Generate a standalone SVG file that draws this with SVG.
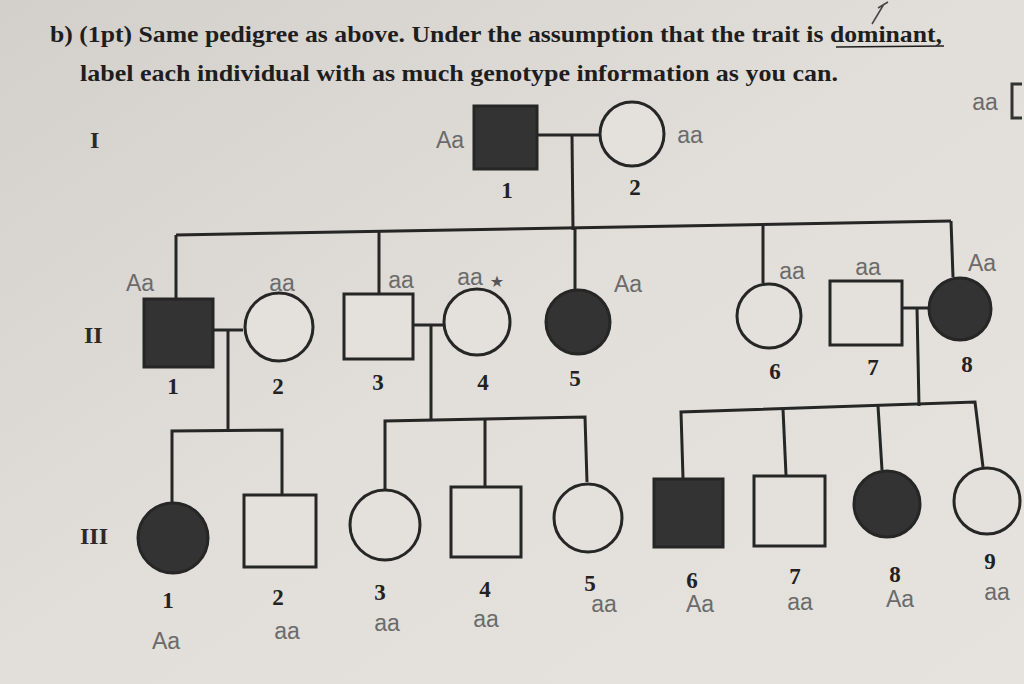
<svg xmlns="http://www.w3.org/2000/svg" width="1024" height="684" viewBox="0 0 1024 684">
<defs>
<linearGradient id="bg" x1="0" y1="0" x2="1" y2="1">
<stop offset="0" stop-color="#d3cfca"/>
<stop offset="0.5" stop-color="#e2ded9"/>
<stop offset="1" stop-color="#e6e3de"/>
</linearGradient>
</defs>
<style>
.hd{font-family:"Liberation Serif",serif;font-weight:bold;font-size:24px;fill:#1e1e1e}
.gen{font-family:"Liberation Serif",serif;font-weight:bold;font-size:24px;fill:#2a2a2a}
.num{font-family:"Liberation Serif",serif;font-weight:bold;font-size:23px;fill:#222;text-anchor:middle}
.hw{font-family:"Liberation Sans",sans-serif;font-size:23px;fill:#6b6b6b;text-anchor:middle}
.ln{stroke:#262626;stroke-width:3;fill:none}
.open{fill:#e4e0db;stroke:#262626;stroke-width:3}
.aff{fill:#333;stroke:#262626;stroke-width:3}
</style>
<rect width="1024" height="684" fill="url(#bg)"/>

<g id="header">
<text class="hd" x="50" y="42" textLength="892" lengthAdjust="spacingAndGlyphs">b) (1pt) Same pedigree as above. Under the assumption that the trait is dominant,</text>
<line x1="836" y1="47" x2="944" y2="46" stroke="#1e1e1e" stroke-width="1.5"/>
<text class="hd" x="80" y="81" textLength="758" lengthAdjust="spacingAndGlyphs">label each individual with as much genotype information as you can.</text>
<path d="M872 24 L884 4 M878 8 L888 2" stroke="#444" stroke-width="1.5" fill="none"/>
<text class="hw" x="985" y="110">aa</text>
<path d="M1022 84 L1012 84 L1012 118 L1022 118" stroke="#333" stroke-width="3" fill="none"/>
</g>

<g id="generations">
<text class="gen" x="90" y="148">I</text>
<text class="gen" x="84" y="343">II</text>
<text class="gen" x="80" y="544">III</text>
</g>

<g id="connectors">
<line class="ln" x1="537" y1="135" x2="599" y2="135"/>
<line class="ln" x1="572" y1="135" x2="573" y2="230"/>
<line class="ln" x1="176" y1="235" x2="951" y2="221"/>
<line class="ln" x1="176" y1="235" x2="176" y2="299"/>
<line class="ln" x1="379" y1="231" x2="379" y2="294"/>
<line class="ln" x1="575" y1="228" x2="575" y2="291"/>
<line class="ln" x1="763" y1="224" x2="763" y2="283"/>
<line class="ln" x1="951" y1="221" x2="953" y2="277"/>
<line class="ln" x1="213" y1="330" x2="243" y2="330"/>
<line class="ln" x1="228" y1="330" x2="228" y2="431"/>
<line class="ln" x1="413" y1="325" x2="443" y2="325"/>
<line class="ln" x1="431" y1="325" x2="431" y2="421"/>
<line class="ln" x1="902" y1="308" x2="928" y2="308"/>
<line class="ln" x1="917" y1="308" x2="919" y2="406"/>
<polyline class="ln" points="172,502 172,431 282,430 282,494"/>
<polyline class="ln" points="385,489 385,421 585,417 587,482"/>
<line class="ln" x1="485" y1="420" x2="485" y2="486"/>
<polyline class="ln" points="683,478 681,412 975,402 983,467"/>
<line class="ln" x1="783" y1="409" x2="786" y2="475"/>
<line class="ln" x1="878" y1="406" x2="882" y2="470"/>
</g>

<g id="I-1"><rect class="aff" x="474" y="106" width="63" height="63"/><text class="num" x="507" y="198">1</text><text class="hw" x="450" y="148">Aa</text></g>
<g id="I-2"><circle class="open" cx="632" cy="134" r="32"/><text class="num" x="635" y="195">2</text><text class="hw" x="690" y="143">aa</text></g>

<g id="II-1"><rect class="aff" x="144" y="299" width="69" height="68"/><text class="num" x="173" y="394">1</text><text class="hw" x="140" y="291">Aa</text></g>
<g id="II-2"><circle class="open" cx="279" cy="327" r="34"/><text class="num" x="278" y="394">2</text><text class="hw" x="282" y="291">aa</text></g>
<g id="II-3"><rect class="open" x="344" y="294" width="69" height="65"/><text class="num" x="378" y="390">3</text><text class="hw" x="401" y="288">aa</text></g>
<g id="II-4"><circle class="open" cx="477" cy="322" r="33"/><text class="num" x="483" y="390">4</text><text class="hw" x="470" y="285">aa</text><text x="497" y="287" font-family="DejaVu Sans,sans-serif" font-size="16" fill="#555" text-anchor="middle">★</text></g>
<g id="II-5"><circle class="aff" cx="578" cy="322" r="32"/><text class="num" x="575" y="386">5</text><text class="hw" x="628" y="292">Aa</text></g>
<g id="II-6"><circle class="open" cx="769" cy="316" r="32"/><text class="num" x="775" y="379">6</text><text class="hw" x="792" y="279">aa</text></g>
<g id="II-7"><rect class="open" x="830" y="281" width="72" height="64"/><text class="num" x="873" y="375">7</text><text class="hw" x="868" y="275">aa</text></g>
<g id="II-8"><circle class="aff" cx="960" cy="309" r="31"/><text class="num" x="967" y="372">8</text><text class="hw" x="982" y="271">Aa</text></g>

<g id="III-1"><circle class="aff" cx="173" cy="538" r="35"/><text class="num" x="168" y="608">1</text><text class="hw" x="166" y="649">Aa</text></g>
<g id="III-2"><rect class="open" x="244" y="495" width="72" height="72"/><text class="num" x="278" y="605">2</text><text class="hw" x="287" y="639">aa</text></g>
<g id="III-3"><circle class="open" cx="385" cy="525" r="35"/><text class="num" x="380" y="600">3</text><text class="hw" x="387" y="631">aa</text></g>
<g id="III-4"><rect class="open" x="451" y="487" width="70" height="70"/><text class="num" x="485" y="597">4</text><text class="hw" x="486" y="627">aa</text></g>
<g id="III-5"><circle class="open" cx="588" cy="518" r="34"/><text class="num" x="590" y="591">5</text><text class="hw" x="604" y="612">aa</text></g>
<g id="III-6"><rect class="aff" x="654" y="479" width="69" height="68"/><text class="num" x="692" y="588">6</text><text class="hw" x="700" y="612">Aa</text></g>
<g id="III-7"><rect class="open" x="754" y="476" width="71" height="70"/><text class="num" x="795" y="584">7</text><text class="hw" x="800" y="610">aa</text></g>
<g id="III-8"><circle class="aff" cx="887" cy="504" r="33"/><text class="num" x="895" y="582">8</text><text class="hw" x="900" y="607">Aa</text></g>
<g id="III-9"><circle class="open" cx="987" cy="501" r="33"/><text class="num" x="990" y="569">9</text><text class="hw" x="997" y="600">aa</text></g>
</svg>
